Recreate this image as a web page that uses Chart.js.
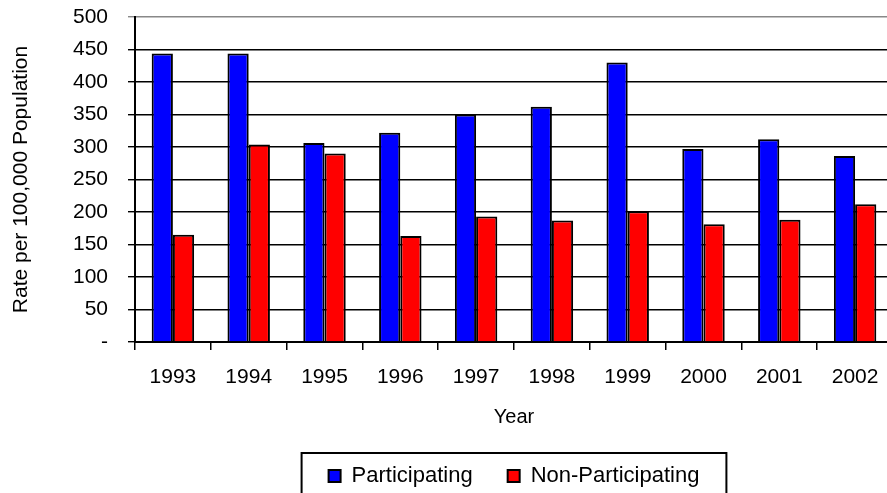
<!DOCTYPE html>
<html>
<head>
<meta charset="utf-8">
<script src="https://cdn.jsdelivr.net/npm/chart.js@4"></script>
<style>
  html, body { margin: 0; padding: 0; background: #fff; overflow: hidden; }
  #wrap { width: 887px; height: 493px; overflow: hidden; }
</style>
</head>
<body>
<div id="wrap"><canvas id="myChart" width="1028" height="493"></canvas></div>
<script>
const years = ['1993', '1994', '1995', '1996', '1997', '1998', '1999', '2000', '2001', '2002'];
const participating = [444, 444, 306, 322, 350, 362, 430, 297, 312, 286];
const nonParticipating = [165, 304, 290, 163, 193, 187, 201, 181, 188, 212];
const yTicks = [0, 50, 100, 150, 200, 250, 300, 350, 400, 450, 500];

const fontFamily = '"Liberation Sans", Arial, sans-serif';

// box drawn round the legend, like the original
const legendBox = {
  id: 'legendBox',
  afterDraw(chart) {
    const lg = chart.legend;
    if (!lg || !lg.legendHitBoxes.length) return;
    const boxes = lg.legendHitBoxes;
    const left = Math.min(...boxes.map(b => b.left)) - 27;
    const right = Math.max(...boxes.map(b => b.left + b.width)) + 27;
    const top = boxes[0].top + boxes[0].height / 2 - 23;
    const c = chart.ctx;
    c.save();
    c.strokeStyle = '#000';
    c.lineWidth = 2;
    c.strokeRect(left, top, right - left, 44);
    c.restore();
  }
};

new Chart(document.getElementById('myChart'), {
  type: 'bar',
  data: {
    labels: years,
    datasets: [{
      label: 'Participating',
      data: participating,
      backgroundColor: '#0000ff',
      borderColor: '#000',
      borderWidth: 2,
      yAxisID: 'y'
    }, {
      label: 'Non-Participating',
      data: nonParticipating,
      backgroundColor: '#ff0000',
      borderColor: '#000',
      borderWidth: 2,
      yAxisID: 'y'
    }]
  },
  options: {
    responsive: false,
    animation: false,
    layout: { padding: { top: 17, left: 0, right: 0, bottom: -4 } },
    datasets: {
      bar: { categoryPercentage: 0.56, barPercentage: 1.0 }
    },
    plugins: {
      legend: {
        position: 'bottom',
        labels: {
          color: '#000',
          font: { family: fontFamily, size: 22 },
          boxWidth: 12,
          boxHeight: 12,
          padding: 35
        }
      },
      tooltip: { enabled: false }
    },
    scales: {
      x: {
        grid: {
          drawOnChartArea: false,
          drawTicks: true,
          tickLength: 8,
          color: '#000',
          lineWidth: 1.5
        },
        border: { color: '#000', width: 2 },
        ticks: {
          color: '#000',
          font: { family: fontFamily, size: 21, lineHeight: 1.0 },
          padding: 17,
          maxRotation: 0
        },
        title: {
          display: true,
          text: 'Year',
          color: '#000',
          font: { family: fontFamily, size: 20 },
          padding: { top: 0, bottom: 1 }
        }
      },
      y: {
        min: 0,
        max: 500,
        afterBuildTicks: function (scale) {
          scale.ticks = yTicks.map(v => ({ value: v }));
        },
        afterFit: function (scale) {
          scale.width = 135;
          // keep the label padding from pushing the plot down
          scale.paddingTop = 0;
          scale.paddingBottom = 0;
        },
        grid: {
          color: function (context) {
            return context.tick && context.tick.value === 500 ? '#888' : '#000';
          },
          lineWidth: 1.4,
          tickLength: 7
        },
        border: { color: '#000', width: 2 },
        ticks: {
          color: '#000',
          font: { family: fontFamily, size: 21 },
          padding: 20,
          callback: function (value) {
            return value === 0 ? '-' : value;
          }
        },
        title: {
          display: true,
          text: 'Rate per 100,000 Population',
          color: '#000',
          font: { family: fontFamily, size: 21 },
          padding: { top: 9, bottom: 0 }
        }
      },
      yRight: {
        position: 'right',
        display: true,
        grid: { drawOnChartArea: false, drawTicks: false },
        border: { display: false },
        ticks: { display: false },
        afterFit: function (scale) {
          scale.width = 135;
          scale.paddingTop = 0;
          scale.paddingBottom = 0;
        }
      }
    }
  },
  plugins: [legendBox]
});
</script>
</body>
</html>
